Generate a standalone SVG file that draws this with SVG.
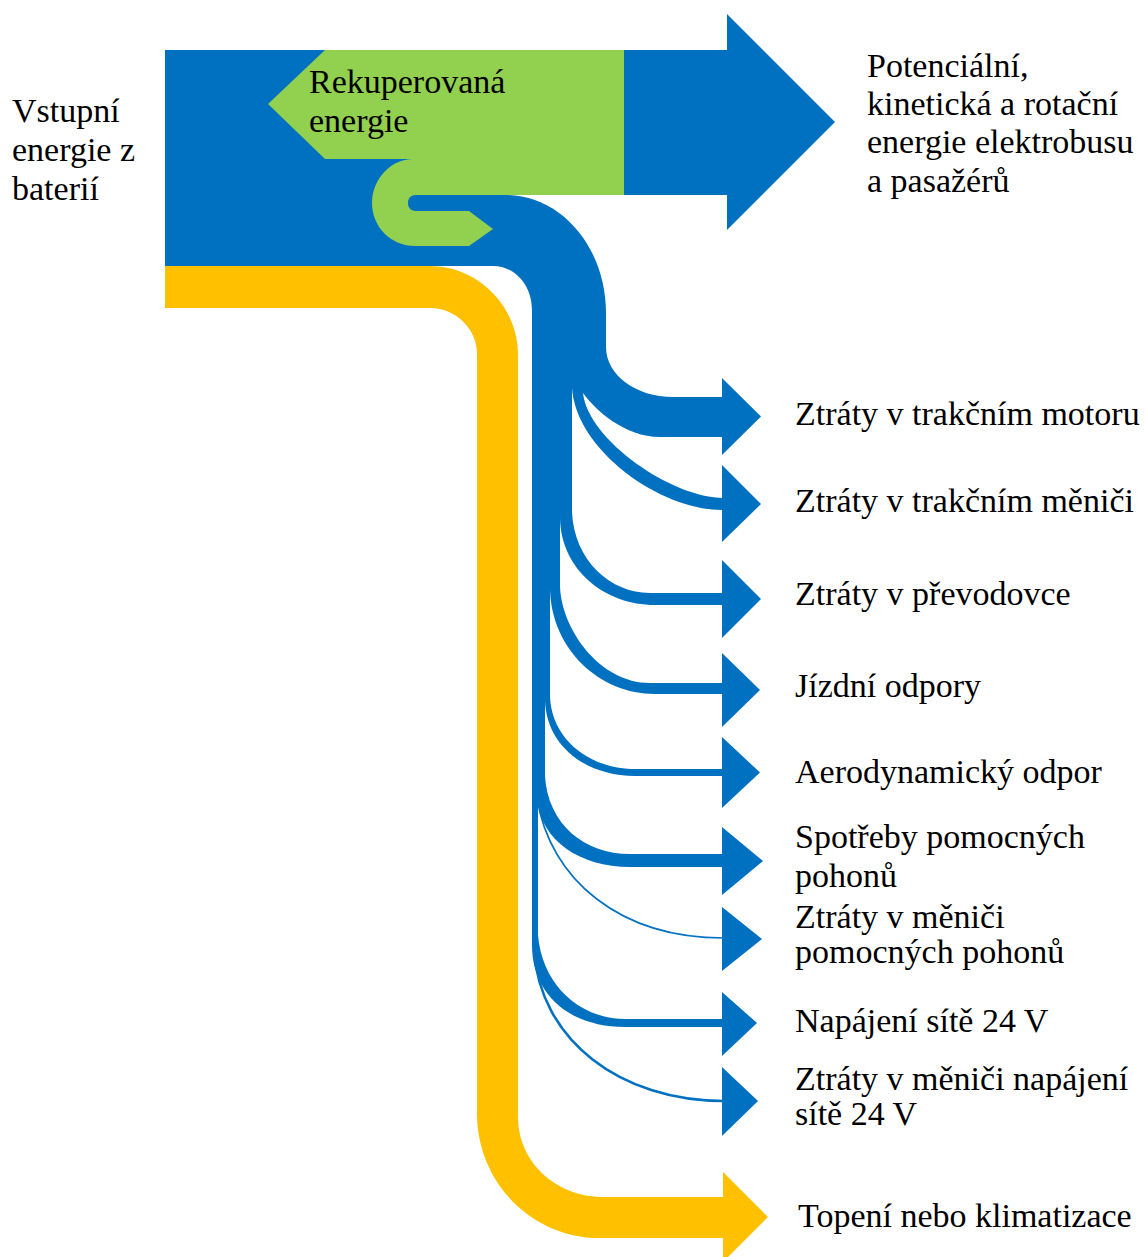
<svg xmlns="http://www.w3.org/2000/svg" width="1147" height="1257" viewBox="0 0 1147 1257">
<style>
  .blue { fill: #0070C0; }
  .green { fill: #92D050; }
  .yellow { fill: #FFC000; }
  .thin { fill: none; stroke: #0070C0; }
  text { font-family: "Liberation Serif", "Times New Roman", serif; font-size: 34px; fill: #000; }
</style>
<rect width="1147" height="1257" fill="#fff"/>
<g id="connectors">
  <path id="flow-yellow" class="yellow" d="M 165,266 H 430 C 478,266 518,306 518,355 V 1117 C 518,1162 556,1197 603,1197 H 725 V 1238 H 600 C 532,1238 477,1183 477,1113 V 354 C 477,329 456,308 430,308 H 165 Z"/>
  <polygon class="yellow" points="723,1172 768,1217 723,1262"/>
  <path id="flow-blue" class="blue" d="M 165,50 H 727 V 14 L 835,122 L 727,230 V 195 H 505 C 562,195 606,248 606,313 V 347 C 606,375 636,397 673,397 H 724 V 437 H 660 C 625,437 595,410 583,393 C 588,440 672,498 724,498 V 510 H 722 C 660,510 576,450 572,388 V 512 C 574,560 610,593 650,593 H 724 V 605 H 655 C 605,605 561,570 560,518 V 587 C 562,630 600,683 650,683 H 724 V 694 H 655 C 600,694 552,650 550,590 V 697 C 552,740 590,769 635,769 H 724 V 776 H 635 C 585,776 546,745 545,700 V 776 C 548,825 585,854 630,854 H 724 V 867 H 630 C 580,867 540,840 538,800 V 935 C 542,985 580,1019 625,1019 H 724 V 1027 H 625 C 570,1027 532,995 532,945 V 310 C 532,285 515,266 493,266 H 165 Z"/>
  <path class="thin" stroke-width="1.6" d="M 537,798 C 550,880 620,938 724,938"/>
  <path class="thin" stroke-width="2.6" d="M 534,950 C 540,1040 620,1101 724,1101"/>
  <polygon class="blue" points="722,378 761,416.5 722,455"/>
  <polygon class="blue" points="722,465 761,504 722,542"/>
  <polygon class="blue" points="722,560 761,599 722,638"/>
  <polygon class="blue" points="722,653 760,690 722,727"/>
  <polygon class="blue" points="722,737 760,772.5 722,808"/>
  <polygon class="blue" points="722,827 763,861 722,895"/>
  <polygon class="blue" points="722,907 762,939 722,971"/>
  <polygon class="blue" points="722,992 757,1023 722,1056"/>
  <polygon class="blue" points="722,1067 758,1101 722,1136"/>
  <path id="flow-green" class="green" d="M 325,50 H 624 V 195 H 416 C 410,195 408,199 408,203 C 408,207 410,211 416,211 H 469 L 493,229 L 469,246 H 415 C 391,246 372,227 372,203 C 372,179 391,159 413,159 H 325 L 268,104 Z"/>
</g>
<g id="node-input"><text x="12" y="122">Vstupní</text><text x="12" y="161">energie z</text><text x="12" y="200">baterií</text></g>
<g id="node-recup"><text x="309" y="93">Rekuperovaná</text><text x="309" y="132">energie</text></g>
<g id="node-kinetic"><text x="867" y="77">Potenciální,</text><text x="867" y="115">kinetická a rotační</text><text x="867" y="153">energie elektrobusu</text><text x="867" y="192">a pasažérů</text></g>
<g id="node-motor"><text x="795" y="425">Ztráty v trakčním motoru</text></g>
<g id="node-inverter"><text x="795" y="512">Ztráty v trakčním měniči</text></g>
<g id="node-gearbox"><text x="795" y="605">Ztráty v převodovce</text></g>
<g id="node-driving"><text x="795" y="697">Jízdní odpory</text></g>
<g id="node-aero"><text x="795" y="783">Aerodynamický odpor</text></g>
<g id="node-aux"><text x="795" y="848">Spotřeby pomocných</text><text x="795" y="887">pohonů</text></g>
<g id="node-aux-inv"><text x="795" y="928">Ztráty v měniči</text><text x="795" y="963">pomocných pohonů</text></g>
<g id="node-24v"><text x="795" y="1032">Napájení sítě 24 V</text></g>
<g id="node-24v-inv"><text x="795" y="1090">Ztráty v měniči napájení</text><text x="795" y="1125">sítě 24 V</text></g>
<g id="node-hvac"><text x="798" y="1227">Topení nebo klimatizace</text></g>
</svg>
